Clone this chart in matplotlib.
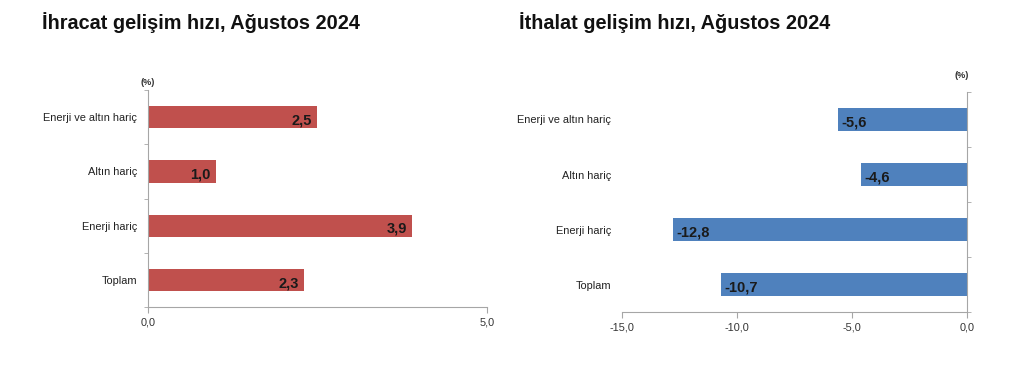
import numpy as np
import matplotlib.pyplot as plt
from matplotlib.ticker import FixedLocator

plt.rcParams['font.family'] = ['Liberation Sans', 'DejaVu Sans']

categories = ['Enerji ve altın hariç', 'Altın hariç', 'Enerji hariç', 'Toplam']
export_vals = [2.5, 1.0, 3.9, 2.3]
import_vals = [-5.6, -4.6, -12.8, -10.7]
export_ticks = [0.0, 5.0]
import_ticks = [-15.0, -10.0, -5.0, 0.0]

red = '#C0504D'
blue = '#4F81BD'
axis_col = '#A6A6A6'


def fmt(v):
    return f'{v:.1f}'.replace('.', ',')


def style_axis(ax, spine_side):
    for s in ['top', 'right', 'left', 'bottom']:
        ax.spines[s].set_visible(False)
    ax.spines['bottom'].set_visible(True)
    ax.spines[spine_side].set_visible(True)
    ax.spines['bottom'].set_color(axis_col)
    ax.spines[spine_side].set_color(axis_col)
    ax.tick_params(axis='x', colors=axis_col, labelcolor='#333333',
                   labelsize=7.8, length=4, direction='out')
    ax.tick_params(axis='y', which='major', length=0, labelsize=7.9,
                   labelcolor='#222222', pad=8)
    ax.tick_params(axis='y', which='minor', length=3, color=axis_col)


fig = plt.figure(figsize=(10.24, 3.83), dpi=100)

# export chart
ax1 = fig.add_axes([0.1445, 0.198, 0.331, 0.567])
y = np.arange(len(categories))
ax1.barh(y, export_vals, height=0.41, color=red)
ax1.set_xlim(export_ticks[0], export_ticks[-1])
ax1.set_ylim(len(categories) - 0.5, -0.5)
ax1.set_yticks(y)
ax1.set_yticklabels(categories)
ax1.yaxis.set_minor_locator(FixedLocator(np.arange(-0.5, len(categories), 1.0)))
ax1.set_xticks(export_ticks)
ax1.set_xticklabels([fmt(t) for t in export_ticks])
style_axis(ax1, 'left')
for yi, v in zip(y, export_vals):
    ax1.text(v - 0.08, yi + 0.06, fmt(v), ha='right', va='center',
             fontsize=10.5, fontweight='bold', color='#1a1a1a')
ax1.text(0.0, 1.015, '(%)', transform=ax1.transAxes, ha='center',
         va='bottom', fontsize=6.5, fontweight='bold', color='#333333')
fig.text(0.041, 0.94, 'İhracat gelişim hızı, Ağustos 2024', fontsize=14.3,
         fontweight='bold', ha='left', va='center', color='#111111')

# import chart
ax2 = fig.add_axes([0.6074, 0.185, 0.337, 0.575])
ax2.barh(y, import_vals, height=0.41, color=blue)
ax2.set_xlim(import_ticks[0], import_ticks[-1])
ax2.set_ylim(len(categories) - 0.5, -0.5)
ax2.set_yticks(y)
ax2.set_yticklabels(categories)
ax2.yaxis.set_minor_locator(FixedLocator(np.arange(-0.5, len(categories), 1.0)))
ax2.set_xticks(import_ticks)
ax2.set_xticklabels([fmt(t) for t in import_ticks])
style_axis(ax2, 'right')
ax2.yaxis.set_ticks_position('left')
ax2.tick_params(axis='y', which='minor', left=False, right=True)
for yi, v in zip(y, import_vals):
    ax2.text(v + 0.15, yi + 0.06, fmt(v), ha='left', va='center',
             fontsize=10.5, fontweight='bold', color='#1a1a1a')
ax2.text(0.985, 1.055, '(%)', transform=ax2.transAxes, ha='center',
         va='bottom', fontsize=6.5, fontweight='bold', color='#333333')
fig.text(0.507, 0.94, 'İthalat gelişim hızı, Ağustos 2024', fontsize=14.3,
         fontweight='bold', ha='left', va='center', color='#111111')

plt.savefig('out.png', dpi=100)
plt.close()
